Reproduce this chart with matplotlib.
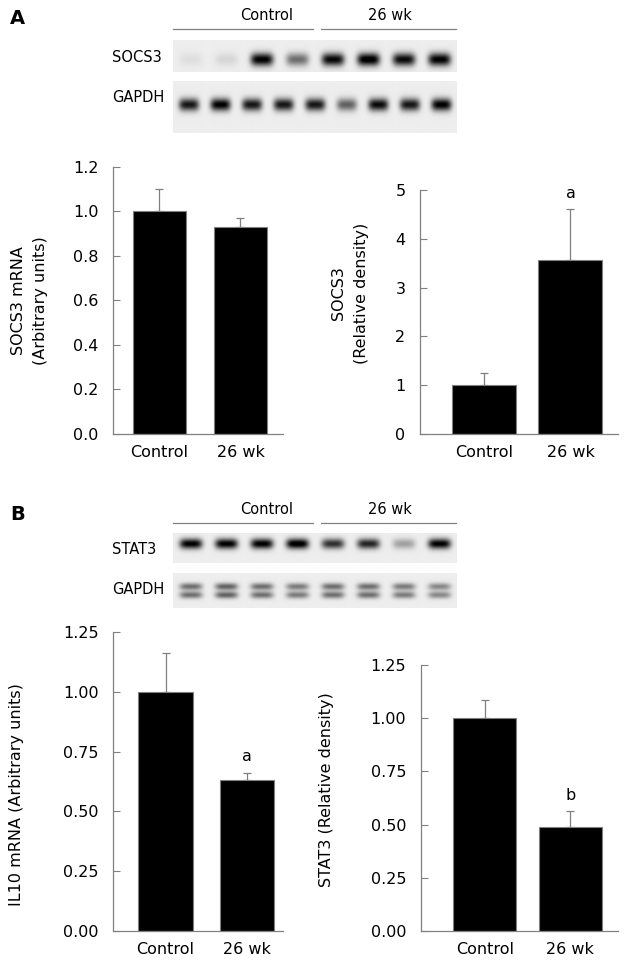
import matplotlib
matplotlib.use("Agg")
import matplotlib.pyplot as plt
import numpy as np

# ---- data ----
groups = ["Control", "26 wk"]

socs3_mrna = [1.00, 0.93]
socs3_mrna_err = [0.10, 0.04]

socs3_density = [1.00, 3.57]
socs3_density_err = [0.25, 1.05]

il10_mrna = [1.00, 0.63]
il10_mrna_err = [0.16, 0.03]

stat3_density = [1.00, 0.49]
stat3_density_err = [0.085, 0.075]

# band strengths of the blots (0 = none, 1 = saturated)
socs3_bands = [0.06, 0.09, 0.95, 0.5, 0.92, 1.0, 0.9, 0.95]
gapdh_a_bands = [0.85, 0.95, 0.85, 0.85, 0.85, 0.55, 0.9, 0.85, 0.95]
stat3_bands = [0.95, 0.95, 0.95, 1.0, 0.75, 0.8, 0.3, 0.95]
gapdh_b_bands = [0.5, 0.55, 0.5, 0.45, 0.5, 0.5, 0.45, 0.4]

W, H = 628, 967
GRAY = "#808080"
FS = 11.5     # chart text
FS_BLOT = 10.5

fig = plt.figure(figsize=(W / 100, H / 100), dpi=100)
plt.rcParams["font.family"] = "DejaVu Sans"


def px_axes(x0, y0, x1, y1):
    # pixel box (top-left origin) -> figure axes
    return fig.add_axes([x0 / W, 1 - y1 / H, (x1 - x0) / W, (y1 - y0) / H])


def blot(box, bands, yc, sy, double=False):
    ax = px_axes(*box)
    w = int(box[2] - box[0]) * 2
    h = int(box[3] - box[1]) * 2
    xx, yy = np.meshgrid(np.arange(w), np.arange(h))
    img = np.full((h, w), 0.07)
    n = len(bands)
    lane = w / n
    for i, b in enumerate(bands):
        cx = (i + 0.5) * lane
        gx = np.exp(-(((xx - cx) / (lane * 0.32)) ** 4))
        if double:
            gy = np.exp(-((yy - (yc - 0.12) * h) / (sy * h)) ** 2) + \
                np.exp(-((yy - (yc + 0.12) * h) / (sy * h)) ** 2)
        else:
            gy = np.exp(-((yy - yc * h) / (sy * h)) ** 2)
        img += b * gx * gy
    ax.imshow(np.clip(img, 0, 1), cmap="gray_r", vmin=0, vmax=1,
              aspect="auto", interpolation="bilinear")
    ax.set_axis_off()
    return ax


def bar_panel(box, vals, errs, xlim, ylim, ticks, fmt, width, ylabel,
              lab_xy, letter=None):
    ax = px_axes(*box)
    x = np.arange(len(vals))
    ax.bar(x, vals, width=width, color="black", edgecolor=GRAY,
           linewidth=0.8, zorder=2)
    ax.errorbar(x, vals, yerr=[[0] * len(errs), errs], fmt="none",
                ecolor=GRAY, elinewidth=0.9, capsize=3, capthick=0.9,
                zorder=1)
    ax.set_xlim(*xlim)
    ax.set_ylim(*ylim)
    ax.set_yticks(ticks)
    ax.set_yticklabels([fmt.format(t) for t in ticks], fontsize=FS)
    ax.set_xticks(x)
    ax.set_xticklabels(groups, fontsize=FS)
    ax.tick_params(axis="x", length=0, pad=8)
    ax.tick_params(axis="y", direction="in", length=5, width=0.8,
                   color=GRAY, pad=10.5)
    for s in ["top", "right"]:
        ax.spines[s].set_visible(False)
    for s in ["left", "bottom"]:
        ax.spines[s].set_color(GRAY)
        ax.spines[s].set_linewidth(0.9)
    ax.set_ylabel(ylabel, fontsize=FS, linespacing=1.6, va="center")
    ax.yaxis.set_label_coords(*lab_xy)
    if letter:
        i = len(vals) - 1
        ax.text(x[i], vals[i] + errs[i] + (ylim[1] - ylim[0]) * 0.03,
                letter, ha="center", va="bottom", fontsize=FS)
    return ax


def header(y_text, y_line):
    fig.text(267 / W, 1 - y_text / H, "Control", ha="center", va="center",
             fontsize=FS_BLOT)
    fig.text(390 / W, 1 - y_text / H, "26 wk", ha="center", va="center",
             fontsize=FS_BLOT)
    fig.add_artist(plt.Line2D([173 / W, 313 / W], [1 - y_line / H] * 2,
                              color=GRAY, lw=0.9))
    fig.add_artist(plt.Line2D([321 / W, 456 / W], [1 - y_line / H] * 2,
                              color=GRAY, lw=0.9))


# ---- panel A ----
fig.text(10 / W, 1 - 19 / H, "A", fontsize=14, fontweight="bold",
         va="center", ha="left")
header(15, 29)
fig.text(112 / W, 1 - 58 / H, "SOCS3", fontsize=FS_BLOT, va="center")
fig.text(112 / W, 1 - 98 / H, "GAPDH", fontsize=FS_BLOT, va="center")
blot((173, 40, 456, 72), socs3_bands, 0.6, 0.2)
blot((173, 81, 456, 133), gapdh_a_bands, 0.45, 0.12)

bar_panel((113, 166.7, 283, 434), socs3_mrna, socs3_mrna_err,
          (-0.574, 1.525), (0, 1.2), [0, 0.2, 0.4, 0.6, 0.8, 1.0, 1.2],
          "{:.1f}", 0.65, "SOCS3 mRNA\n(Arbitrary units)", (-0.49, 0.5))
bar_panel((420, 190, 618, 434), socs3_density, socs3_density_err,
          (-0.74, 1.55), (0, 5), [0, 1, 2, 3, 4, 5], "{:.0f}", 0.74,
          "SOCS3\n(Relative density)", (-0.354, 0.578), letter="a")

# ---- panel B ----
fig.text(10 / W, 1 - 514 / H, "B", fontsize=14, fontweight="bold",
         va="center", ha="left")
header(510, 523)
fig.text(112 / W, 1 - 550 / H, "STAT3", fontsize=FS_BLOT, va="center")
fig.text(112 / W, 1 - 590 / H, "GAPDH", fontsize=FS_BLOT, va="center")
blot((173, 533, 456, 563), stat3_bands, 0.35, 0.17)
blot((173, 573, 456, 608), gapdh_b_bands, 0.5, 0.1, double=True)

bar_panel((113, 631.9, 283, 931), il10_mrna, il10_mrna_err,
          (-0.644, 1.44), (0, 1.25), [0, 0.25, 0.5, 0.75, 1.0, 1.25],
          "{:.2f}", 0.67, "IL10 mRNA (Arbitrary units)", (-0.565, 0.455),
          letter="a")
bar_panel((420.7, 665, 618, 931), stat3_density, stat3_density_err,
          (-0.75, 1.56), (0, 1.25), [0, 0.25, 0.5, 0.75, 1.0, 1.25],
          "{:.2f}", 0.74, "STAT3 (Relative density)", (-0.475, 0.53),
          letter="b")

fig.savefig("out.png", dpi=100)
